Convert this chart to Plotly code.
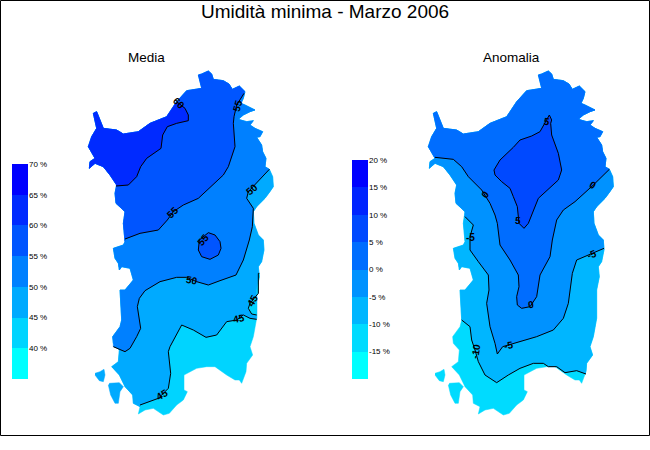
import plotly.graph_objects as go

TITLE = "Umidità minima - Marzo 2006"
PANEL_TITLES = ["Media", "Anomalia"]

# Coastline of the main island, clockwise, in map units
COAST_X = [355,365,385,395,400,430,447,457,478,495,490,483,495,525,510,490,475,500,520,510,525,548,540,530,545,548,558,555,568,578,580,570,555,530,520,522,535,550,552,545,535,538,530,530,525,520,510,518,500,498,485,478,465,440,405,380,350,330,312,312,322,310,290,268,250,220,195,175,180,160,158,135,118,95,115,118,100,98,120,125,120,135,160,150,125,118,115,105,100,130,135,130,135,108,105,110,90,70,45,28,30,45,25,35,50,40,50,70,110,130,175,210,260,290,320,365]
COAST_Y = [45,42,33,42,58,62,72,88,78,95,115,130,135,150,155,165,178,185,182,195,205,215,230,232,255,275,295,320,328,350,380,395,415,440,455,490,525,540,570,605,620,650,690,775,800,830,860,885,910,935,970,960,960,945,920,920,925,935,945,990,995,1020,1035,1060,1065,1045,1050,1062,1040,1030,1005,980,945,920,905,870,850,830,800,780,690,690,660,625,620,630,610,595,565,555,545,490,455,430,400,375,345,320,310,325,305,295,260,230,205,160,155,205,210,222,215,190,170,125,92,85]
SAN_PIETRO_X = [45,60,72,75,70,58,45]
SAN_PIETRO_Y = [940,935,928,945,965,962,945]
SAN_ANTIOCO_X = [88,118,130,120,115,105,92,85]
SAN_ANTIOCO_Y = [970,968,980,995,1030,1030,1005,975]

# Media contours
M60_X = [290,315,325,325,290,262,248,243,200,182,170,145,108]
M60_Y = [125,145,165,182,190,200,225,265,295,320,350,375,378]
M55_X = [492,470,462,460,465,445,430,400,355,310,280,262,235,180,135]
M55_Y = [100,135,170,190,260,320,345,372,415,435,455,480,510,520,537]
M55B_X = [358,385,405,420,423,415,390,365,355,358]
M55B_Y = [540,518,525,545,565,585,598,590,570,540]
M50_X = [568,530,505,500,520,517,508,490,468,420,385,350,320,290,240,195,178,172,182,170,150,135,100]
M50_Y = [328,370,395,415,445,500,540,600,645,662,675,665,652,652,665,692,715,740,805,830,865,875,860]
M45_X = [530,510,490,470,440,410,378,340,305,270,265,272,265,235,180]
M45_Y = [778,775,765,780,785,825,832,810,795,860,875,940,985,1015,1035]
M45B_X = [530,515,505,510,535,535,538]
M45B_Y = [765,762,745,730,700,640,640]

# Anomalia contours
A5_X = [388,375,360,335,300,280,240,222,225,245,270,280,292,297,312,325,340,355,415,425,415,395,392,395,388]
A5_Y = [165,190,215,228,240,262,300,330,345,365,385,410,440,490,505,490,450,415,360,330,280,225,190,180,165]
A0_X = [568,520,465,430,410,397,390,360,350,330,305,292,290,297,295,270,240,238,232,225,210,185,145,125,100,45]
A0_Y = [328,375,425,450,480,540,590,645,710,740,745,735,710,680,645,600,555,540,490,465,430,390,350,320,298,292]
AM5_X = [552,510,470,457,445,430,400,350,265,248,232,225,210,200,207,205,175,150,150,160,135]
AM5_Y = [565,582,600,640,730,775,810,830,855,860,882,850,800,730,690,645,605,570,530,495,470]
AM10_X = [498,470,435,410,385,370,340,300,265,230,195,175,165,155,150,125]
AM10_Y = [942,932,938,920,920,910,910,925,945,968,945,905,870,840,800,780]

# Contour labels
M_LABELS = ["60","55","55","55","50","50","45","45","45"]
M_LABEL_X = [298,472,278,370,515,337,518,478,247]
M_LABEL_Y = [130,135,458,538,388,662,722,775,1002]
M_LABEL_ANGLE = [45,-75,-45,-50,-40,10,-60,-10,-30]
A_LABELS = ["5","5","0","0","0","-5","-5","-5","-10"]
A_LABEL_X = [380,295,195,520,332,150,265,515,168]
A_LABEL_Y = [183,480,403,375,733,533,855,582,875]
A_LABEL_ANGLE = [10,5,-50,30,-10,0,-10,-20,-80]

# Legends
M_LEVELS = [35,40,45,50,55,60,65,70]
M_COLORS = ["#00ffff","#00d4ff","#00aaff","#0080ff","#0055ff","#002aff","#0000ff"]
A_LEVELS = [-20,-15,-10,-5,0,5,10,15,20]
A_COLORS = ["#00ffff","#00dbff","#00b6ff","#0092ff","#006dff","#0049ff","#0024ff","#0000ff"]


def nearest(px, py):
    return min(range(len(COAST_X)), key=lambda k: (COAST_X[k]-px)**2 + (COAST_Y[k]-py)**2)


def region(cx, cy):
    """Contour followed by the coast, walking clockwise from its end back to its start."""
    i, j = nearest(cx[-1], cy[-1]), nearest(cx[0], cy[0])
    n = len(COAST_X)
    idx = [i]
    while idx[-1] != j:
        idx.append((idx[-1] + 1) % n)
    return list(cx) + [COAST_X[k] for k in idx], list(cy) + [COAST_Y[k] for k in idx]


fig = go.Figure()


def fill(x, y, color, n):
    fig.add_trace(go.Scatter(x=x, y=y, mode="lines", fill="toself", fillcolor=color,
                             line=dict(width=0.5, color=color), hoverinfo="skip",
                             showlegend=False, xaxis=f"x{n}", yaxis=f"y{n}"))


def line(x, y, n):
    fig.add_trace(go.Scatter(x=x, y=y, mode="lines", line=dict(color="black", width=1),
                             hoverinfo="skip", showlegend=False, xaxis=f"x{n}", yaxis=f"y{n}"))


def panel(n, base, islands, areas, lines, labels):
    fill(COAST_X, COAST_Y, base, n)
    for (x, y) in [(SAN_PIETRO_X, SAN_PIETRO_Y), (SAN_ANTIOCO_X, SAN_ANTIOCO_Y)]:
        fill(x, y, islands, n)
    for (x, y, c) in areas:
        fill(x, y, c, n)
    for (x, y) in lines:
        line(x, y, n)
    for t, x, y, a in zip(*labels):
        fig.add_annotation(text=t, x=x, y=y, xref=f"x{n}", yref=f"y{n}", textangle=a, showarrow=False,
                           font=dict(family="Liberation Sans", size=10, color="black", weight="bold"))


panel(1, "#00d4ff", "#00aaff",
      [(*region(M45_X, M45_Y), "#00aaff"), (*region(M45B_X, M45B_Y), "#00d4ff"),
       (*region(M50_X, M50_Y), "#0080ff"), (*region(M55_X, M55_Y), "#0055ff"),
       (M55B_X, M55B_Y, "#0055ff"), (*region(M60_X, M60_Y), "#002aff")],
      [(M60_X, M60_Y), (M55_X, M55_Y), (M55B_X, M55B_Y), (M50_X, M50_Y), (M45_X, M45_Y), (M45B_X, M45B_Y)],
      (M_LABELS, M_LABEL_X, M_LABEL_Y, M_LABEL_ANGLE))
panel(2, "#00dbff", "#00dbff",
      [(*region(AM10_X, AM10_Y), "#00b6ff"), (*region(AM5_X, AM5_Y), "#0092ff"),
       (*region(A0_X, A0_Y), "#006dff"), (A5_X, A5_Y, "#0049ff")],
      [(A5_X, A5_Y), (A0_X, A0_Y), (AM5_X, AM5_Y), (AM10_X, AM10_Y)],
      (A_LABELS, A_LABEL_X, A_LABEL_Y, A_LABEL_ANGLE))


def legend(n, levels, colors):
    k = len(colors)
    scale = []
    for i, c in enumerate(colors):
        scale += [[i / k, c], [(i + 1) / k, c]]
    fig.add_trace(go.Heatmap(z=[[i] for i in range(k)], x=[0, 1], y=levels, zmin=-0.5, zmax=k - 0.5,
                             colorscale=scale, showscale=False, hoverinfo="skip",
                             xaxis=f"x{n}", yaxis=f"y{n}"))


legend(3, M_LEVELS, M_COLORS)
legend(4, A_LEVELS, A_COLORS)

W, H = 650, 450
hidden = dict(visible=False, fixedrange=True, automargin=False)
tick = dict(side="right", ticks="", showgrid=False, zeroline=False, showline=False, ticklabelstandoff=0,
            automargin=False,
            tickfont=dict(family="Liberation Sans", size=8, color="black"))


def page_text(text, px, py, size):
    return dict(text=text, x=px / W, y=1 - py / H, xref="paper", yref="paper", showarrow=False,
                xanchor="center", yanchor="middle",
                font=dict(family="Liberation Sans", size=size, color="black"))


fig.update_layout(
    width=W, height=H, margin=dict(l=0, r=0, t=0, b=0), paper_bgcolor="white", plot_bgcolor="rgba(0,0,0,0)",
    showlegend=False,
    # left map: 3 map units per pixel, origin at pixel (80, 60); right map origin at pixel (420, 60)
    xaxis=dict(domain=[0, 0.5], range=[-240, 735], **hidden),
    yaxis=dict(domain=[0, 1], range=[1170, -180], **hidden),
    xaxis2=dict(domain=[0.5, 1], range=[-285, 690], **hidden),
    yaxis2=dict(domain=[0, 1], range=[1170, -180], **hidden),
    xaxis3=dict(domain=[12 / W, 28 / W], range=[0, 1], **hidden),
    yaxis3=dict(domain=[1 - 379 / H, 1 - 164 / H], range=[35, 70], anchor="x3",
                tickvals=M_LEVELS[1:], ticktext=[f"{v} %" for v in M_LEVELS[1:]], **tick),
    xaxis4=dict(domain=[352 / W, 368 / W], range=[0, 1], **hidden),
    yaxis4=dict(domain=[1 - 379 / H, 1 - 160 / H], range=[-20, 20], anchor="x4",
                tickvals=A_LEVELS[1:], ticktext=[f"{v} %" for v in A_LEVELS[1:]], **tick),
    shapes=[dict(type="rect", xref="paper", yref="paper", x0=0.5 / W, x1=649.5 / W, y0=1 - 435.5 / H, y1=1 - 0.5 / H,
                 line=dict(color="black", width=1), fillcolor="rgba(0,0,0,0)", layer="above")],
    annotations=list(fig.layout.annotations) + [
        page_text(TITLE, 324.5, 11, 19),
        page_text(PANEL_TITLES[0], 146, 57, 13.5),
        page_text(PANEL_TITLES[1], 511, 57, 13.5),
    ],
)
fig.write_html("out.html", config=dict(displayModeBar=False), post_script="document.body.style.margin='0';")
